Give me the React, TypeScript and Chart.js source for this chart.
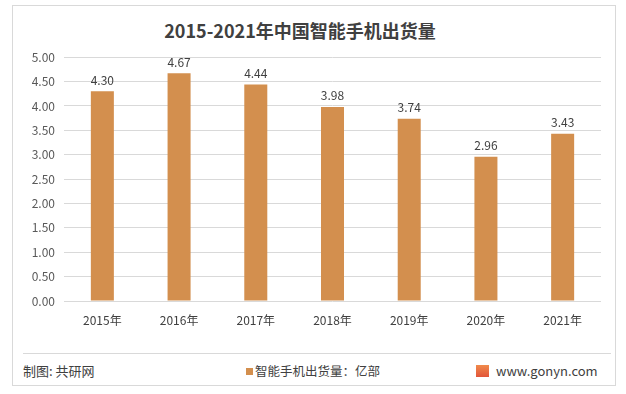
import React, { useEffect, useRef } from "react";
import { Chart, registerables } from "chart.js";

Chart.register(...registerables);

const title = "2015-2021年中国智能手机出货量";
const categories = ["2015年", "2016年", "2017年", "2018年", "2019年", "2020年", "2021年"];
const shipments = [4.3, 4.67, 4.44, 3.98, 3.74, 2.96, 3.43];
const seriesName = "智能手机出货量：亿部";
const sourceText = "制图: 共研网";
const siteText = "www.gonyn.com";

const BAR_COLOR = "#D38F4E";
const FONT = "'Noto Sans CJK SC', 'Microsoft YaHei', sans-serif";

const valueLabels = {
  id: "valueLabels",
  afterDatasetsDraw(chart: any) {
    const { ctx } = chart;
    const meta = chart.getDatasetMeta(0);
    ctx.save();
    ctx.font = `12px ${FONT}`;
    ctx.fillStyle = "#404040";
    ctx.textAlign = "center";
    ctx.textBaseline = "bottom";
    meta.data.forEach((bar: any, i: number) => {
      ctx.fillText(shipments[i].toFixed(2), bar.x, bar.y - 5);
    });
    ctx.restore();
  },
};

export default function App() {
  const ref = useRef<HTMLCanvasElement>(null);
  useEffect(() => {
    if (!ref.current) return;
    const chart = new Chart(ref.current, {
      type: "bar",
      data: {
        labels: categories,
        datasets: [
          {
            label: seriesName,
            data: shipments,
            backgroundColor: BAR_COLOR,
            categoryPercentage: 1,
            barPercentage: 0.3,
          },
        ],
      },
      options: {
        animation: false,
        responsive: false,
        maintainAspectRatio: false,
        layout: { padding: { top: 7, right: 16, bottom: 0, left: 0 } },
        plugins: { legend: { display: false }, title: { display: false }, tooltip: { enabled: false } },
        scales: {
          x: {
            grid: { display: false, drawTicks: false },
            border: { display: false },
            ticks: { color: "#404040", font: { size: 12, family: FONT }, padding: 12 },
            afterFit: (s: any) => { s.height = 40; },
          },
          y: {
            min: 0,
            max: 5,
            grid: { color: "#D9D9D9", drawTicks: false },
            border: { display: false },
            ticks: {
              stepSize: 0.5,
              color: "#595959",
              font: { size: 12, family: FONT },
              padding: 9,
              callback: (v: any) => Number(v).toFixed(2),
            },
            afterFit: (s: any) => { s.width = 51; },
          },
        },
      },
      plugins: [valueLabels],
    });
    return () => chart.destroy();
  }, []);

  return (
    <div
      style={{
        position: "absolute",
        left: 12,
        top: 5,
        width: 604,
        height: 381,
        border: "1px solid #D9D9D9",
        boxSizing: "border-box",
        background: "#fff",
        fontFamily: FONT,
      }}
    >
      <div
        style={{
          position: "absolute",
          left: 287,
          top: 12,
          transform: "translateX(-50%)",
          whiteSpace: "nowrap",
          fontSize: 18,
          fontWeight: "bold",
          color: "#404040",
          lineHeight: "24px",
        }}
      >
        {title}
      </div>
      <canvas ref={ref} width={604} height={300} style={{ position: "absolute", left: 0, top: 35 }} />
      <div style={{ position: "absolute", left: 10, top: 347, width: 588, height: 1, background: "#D9D9D9" }} />
      <div style={{ position: "absolute", left: 10, top: 355, fontSize: 13, color: "#404040", lineHeight: "20px" }}>
        {sourceText}
      </div>
      <div style={{ position: "absolute", left: 233, top: 355, fontSize: 12.5, color: "#404040", lineHeight: "20px", display: "flex", alignItems: "center" }}>
        <span style={{ display: "inline-block", width: 7, height: 7, background: BAR_COLOR, marginRight: 2 }} />
        {seriesName}
      </div>
      <div style={{ position: "absolute", left: 463, top: 355, fontSize: 13, color: "#404040", lineHeight: "20px", display: "flex", alignItems: "center" }}>
        <span style={{ display: "inline-block", width: 13, height: 12, background: "linear-gradient(#F08A4B, #E2553A)", marginRight: 7 }} />
        {siteText}
      </div>
    </div>
  );
}
